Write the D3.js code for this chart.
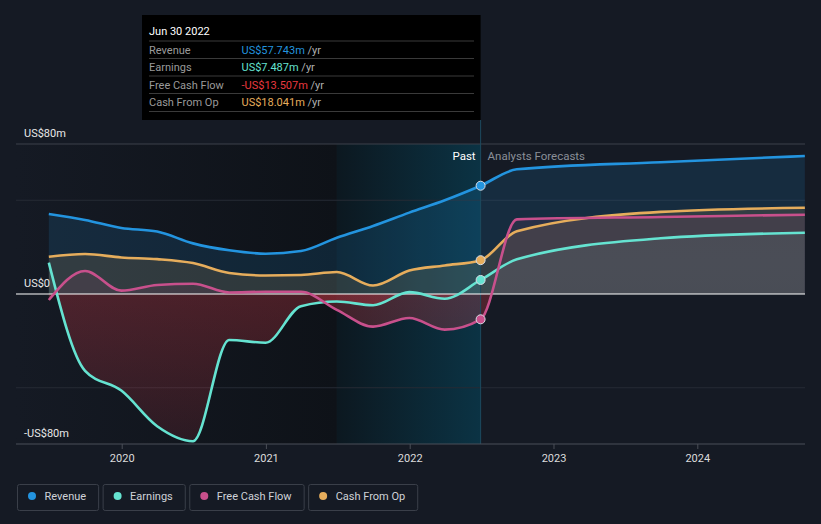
<!DOCTYPE html>
<html><head><meta charset="utf-8">
<script src="https://cdn.jsdelivr.net/npm/d3@7"></script>
<style>
body{margin:0;background:#151a24;}
svg{display:block;font-family:Roboto,"Open Sans",sans-serif;}
</style></head><body>
<svg id="c" width="821" height="524"></svg>
<script>
// ---- data ----
const dates = ["2019-06-30","2019-09-30","2019-12-31","2020-03-31","2020-06-30","2020-09-30","2020-12-31",
  "2021-03-31","2021-06-30","2021-09-30","2021-12-31","2022-03-31","2022-06-30",
  "2022-09-30","2023-09-30","2024-09-30"];
const revenue  = [42.7,39.5,35.2,33.3,27.0,23.3,21.5,22.9,30.0,36.3,43.4,50.0,57.743, 66.5,70.3,73.6];
const earnings = [16.7,-41.0,-51.5,-70.5,-78.5,-24.5,-26.0,-6.5,-4.0,-6.0,1.0,-2.5,7.487, 18.5,29.7,32.7];
const fcf      = [-3.2,12.3,1.8,4.8,5.5,0.8,1.2,1.2,-8.5,-17.4,-12.8,-19.0,-13.507, 39.8,41.1,42.3];
const cfo      = [19.9,21.3,19.5,18.6,16.5,11.2,9.9,10.1,11.7,4.5,12.5,15.2,18.041, 33.5,43.8,46.0];
const seriesNames = ["Revenue","Earnings","Free Cash Flow","Cash From Op"];
const tooltipDate = "Jun 30 2022";
const tooltipValues = ["US$57.743m","US$7.487m","-US$13.507m","US$18.041m"];
const yTickValues = [80,0,-80];
const yTickLabels = ["US$80m","US$0","-US$80m"];
const gridValues = [50,-50];
const xTickYears = [2020,2021,2022,2023,2024];
const lastPastIndex = 12;
const pastBandStart = "2021-06-30";

// ---- setup ----
const svg = d3.select("#c");
const parse = d3.timeParse("%Y-%m-%d");
const D = dates.map(parse);
const x = d3.scaleTime().domain([new Date(2020,0,1), new Date(2024,0,1)]).range([121.7,697.3]);
const y = d3.scaleLinear().domain([-80,80]).range([444,144]);
const X0 = 16, X1 = 805;
const colors = ["#2394df","#65e3d1","#c8508c","#e6ad5c"];
const valueColors = ["#2394df","#65e3d1","#e8393f","#e6ad5c"];
const allSeries = [revenue, earnings, fcf, cfo];

const defs = svg.append("defs");
const g1 = defs.append("linearGradient").attr("id","darkG").attr("x1",0).attr("x2",1).attr("y1",0).attr("y2",0);
g1.append("stop").attr("offset",0).attr("stop-color","#151a24");
g1.append("stop").attr("offset",1).attr("stop-color","#0e1218");
const g2 = defs.append("linearGradient").attr("id","bandG").attr("x1",0).attr("x2",1).attr("y1",0).attr("y2",0);
g2.append("stop").attr("offset",0).attr("stop-color","#0c1820");
g2.append("stop").attr("offset",1).attr("stop-color","#0b3344");
const gr = defs.append("linearGradient").attr("id","redG").attr("gradientUnits","userSpaceOnUse")
  .attr("x1",0).attr("x2",0).attr("y1",y(0)).attr("y2",y(-80));
gr.append("stop").attr("offset",0).attr("stop-color","#e03c48").attr("stop-opacity",0.28);
gr.append("stop").attr("offset",1).attr("stop-color","#e03c48").attr("stop-opacity",0.12);
const ge = defs.append("linearGradient").attr("id","earnG").attr("x1",0).attr("x2",0).attr("y1",0).attr("y2",1);
ge.append("stop").attr("offset",0).attr("stop-color","#a0dcd4").attr("stop-opacity",0.08);
ge.append("stop").attr("offset",1).attr("stop-color","#000000").attr("stop-opacity",0.3);
defs.append("clipPath").attr("id","pos").append("rect").attr("x",0).attr("y",0).attr("width",821).attr("height",y(0));
defs.append("clipPath").attr("id","neg").append("rect").attr("x",0).attr("y",y(0)).attr("width",821).attr("height",444-y(0));

// background regions
const bandX = x(parse(pastBandStart)), pastX = x(D[lastPastIndex]);
svg.append("rect").attr("x",X0).attr("y",y(80)).attr("width",bandX-X0).attr("height",y(-80)-y(80)).attr("fill","url(#darkG)");
svg.append("rect").attr("x",bandX).attr("y",y(80)).attr("width",pastX-bandX).attr("height",y(-80)-y(80)).attr("fill","url(#bandG)");

// grid
svg.append("line").attr("x1",X0).attr("x2",X1).attr("y1",y(80)).attr("y2",y(80)).attr("stroke","#3c414b");
gridValues.forEach(v=>svg.append("line").attr("x1",X0).attr("x2",X1).attr("y1",y(v)).attr("y2",y(v)).attr("stroke","#262b35"));

// areas (draw order: revenue, cash from op, free cash flow, earnings)
const posAlpha = [0.15,0,0.11,0.14];
[0,3,2,1].forEach(i=>{
  const s = allSeries[i];
  const pts = s.map((v,j)=>({d:D[j],v}));
  const area = d3.area().x(p=>x(p.d)).y0(y(0)).y1(p=>y(p.v)).curve(d3.curveMonotoneX);
  const pa = svg.append("path").attr("d",area(pts)).attr("clip-path","url(#pos)");
  if (i===1) pa.attr("fill","url(#earnG)");
  else pa.attr("fill",colors[i]).attr("fill-opacity",posAlpha[i]);
  svg.append("path").attr("d",area(pts)).attr("clip-path","url(#neg)").attr("fill","url(#redG)");
});

// vertical past line
svg.append("line").attr("x1",pastX).attr("x2",pastX).attr("y1",120).attr("y2",444).attr("stroke","#1d4a5e");

// zero line
svg.append("line").attr("x1",X0).attr("x2",X1).attr("y1",y(0)).attr("y2",y(0)).attr("stroke","#ffffff").attr("stroke-width",1.2);

// x axis
svg.append("line").attr("x1",X0).attr("x2",X1).attr("y1",444).attr("y2",444).attr("stroke","#4a4f58");
const xAxis = d3.axisBottom(x).tickValues(xTickYears.map(yr=>new Date(yr,0,1))).tickFormat(d3.timeFormat("%Y")).tickSize(5).tickPadding(5);
const ax = svg.append("g").attr("transform","translate(0,444)").call(xAxis);
ax.select(".domain").remove();
ax.selectAll(".tick line").attr("stroke","#4a4f58");
ax.selectAll(".tick text").attr("fill","#dcdcdc").attr("font-size","11px").attr("font-family","Roboto,sans-serif");

// y labels
yTickValues.forEach((v,i)=>svg.append("text").attr("x",24).attr("y",y(v)-7).attr("fill","#e8e8e8").attr("font-size","11px").text(yTickLabels[i]));

// lines
const order = [0,1,3,2];
order.forEach(i=>{
  const pts = allSeries[i].map((v,j)=>({d:D[j],v}));
  const line = d3.line().x(p=>x(p.d)).y(p=>y(p.v)).curve(d3.curveMonotoneX);
  svg.append("path").attr("d",line(pts)).attr("fill","none").attr("stroke",colors[i]).attr("stroke-width",2.6);
});
// dots
allSeries.forEach((s,i)=>{
  svg.append("circle").attr("cx",pastX).attr("cy",y(s[lastPastIndex])).attr("r",4.5)
    .attr("fill",colors[i]).attr("stroke","#d8dde6").attr("stroke-width",1);
});

// Past / forecast labels
svg.append("text").attr("x",pastX-5).attr("y",160).attr("text-anchor","end").attr("fill","#ffffff").attr("font-size","11.5px").text("Past");
svg.append("text").attr("x",pastX+7).attr("y",160).attr("fill","#8a8f98").attr("font-size","11.5px").text("Analysts Forecasts");

// tooltip
const tt = svg.append("g");
tt.append("rect").attr("x",142).attr("y",15).attr("width",pastX-142).attr("height",105).attr("fill","#000");
tt.append("text").attr("x",149).attr("y",35).attr("fill","#fff").attr("font-size","11px").text(tooltipDate);
const sepY = [41,58.5,76,93.5,111.5];
sepY.forEach(sy=>tt.append("line").attr("x1",149).attr("x2",474).attr("y1",sy).attr("y2",sy).attr("stroke","#3a3a3a"));
seriesNames.forEach((n,i)=>{
  const by = 53.5 + i*17.5;
  tt.append("text").attr("x",149).attr("y",by).attr("fill","#9a9a9a").attr("font-size","11px").text(n);
  const t = tt.append("text").attr("x",241.5).attr("y",by).attr("font-size","11px");
  t.append("tspan").attr("fill",valueColors[i]).text(tooltipValues[i]);
  t.append("tspan").attr("fill","#b0b0b0").text(" /yr");
});

// legend
let lx = 17;
seriesNames.forEach((n,i)=>{
  const g = svg.append("g");
  const r = g.append("rect").attr("x",lx+0.5).attr("y",484.5).attr("height",26).attr("rx",2)
    .attr("fill","none").attr("stroke","#3a3f49");
  g.append("circle").attr("cx",lx+15).attr("cy",496).attr("r",4).attr("fill",colors[i]);
  const t = g.append("text").attr("x",lx+27.5).attr("y",500).attr("fill","#cfd2d8").attr("font-size","11px").text(n);
  const w = t.node().getComputedTextLength();
  const bw = 27.5 + w + 12;
  r.attr("width",bw);
  lx += bw + 4.5;
});
</script>
</body></html>
